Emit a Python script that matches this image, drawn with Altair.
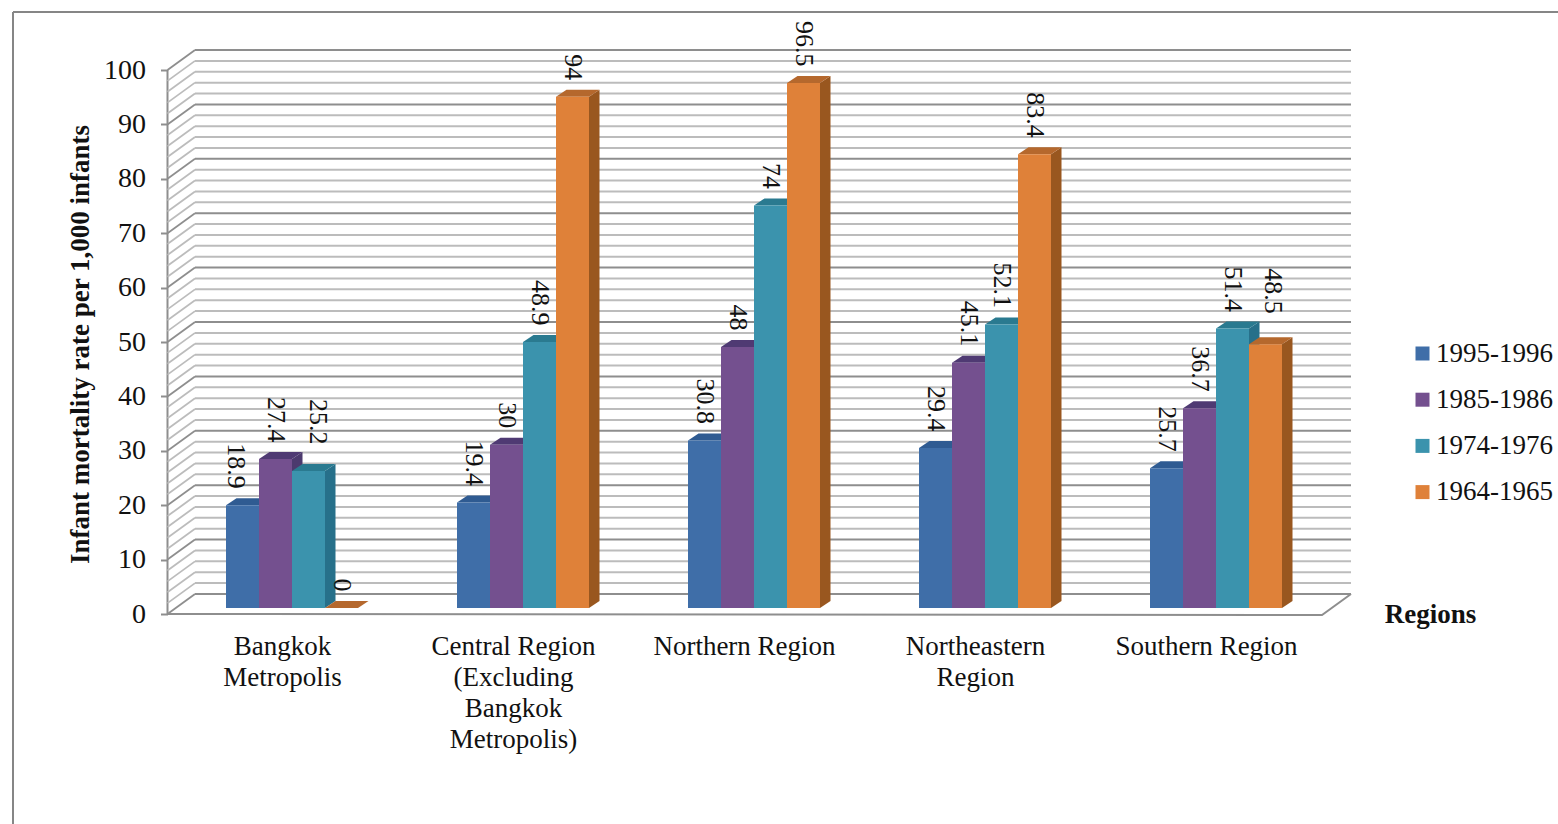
import altair as alt
import pandas as pd

FONT = "Liberation Serif"

# Chart values
regions = [
    "Bangkok\nMetropolis",
    "Central Region\n(Excluding\nBangkok\nMetropolis)",
    "Northern Region",
    "Northeastern\nRegion",
    "Southern Region",
]
periods = ["1995-1996", "1985-1986", "1974-1976", "1964-1965"]
rate_1995 = [18.9, 19.4, 30.8, 29.4, 25.7]
rate_1985 = [27.4, 30, 48, 45.1, 36.7]
rate_1974 = [25.2, 48.9, 74, 52.1, 51.4]
rate_1964 = [0, 94, 96.5, 83.4, 48.5]
series = [rate_1995, rate_1985, rate_1974, rate_1964]

front_colors = ["#3f6ea8", "#74508f", "#3b93ad", "#df8139"]
top_colors = ["#2f5b92", "#4f3a73", "#2a7a90", "#b5682d"]
side_colors = ["#2c5080", "#4c3a6e", "#27708a", "#99571f"]

# Scales: x counts region groups, y is the rate on the plane of the bar fronts
W, H = 1558, 824
GROUP = 231.0
PX = 5.44
x_scale = alt.Scale(domain=[-226 / GROUP, (W - 226) / GROUP], range=[0, W], nice=False, zero=False)
bar_y = alt.Scale(domain=[-(H - 608) / PX, 608 / PX], range=[H, 0], nice=False, zero=False)
axis_y = alt.Scale(domain=[-(H - 614) / PX, 614 / PX], range=[H, 0], nice=False, zero=False)

BAR = 33 / GROUP
DEPTH_X = 10.5 / GROUP
DEPTH_Y = 7 / PX
WALL_Y = 14 / PX          # back wall sits above the bar plane
FRONT_Y = -6 / PX         # axis plane sits below the bar plane
AXIS_X = (167.5 - 226) / GROUP
WALL_L = (195 - 226) / GROUP
WALL_R = (1351 - 226) / GROUP
FLOOR_R = (1322 - 226) / GROUP

# Value labels are hand-placed in a few crowded spots: (group, series) -> (dx px, dy px)
label_nudge = {(0, 0): (-7, 0), (0, 2): (9, 10), (4, 3): (7, 14)}

front, top, side, labels = [], [], [], []
for j, (name, vals) in enumerate(zip(periods, series)):
    for i, v in enumerate(vals):
        x0 = i + j * BAR
        x1 = x0 + BAR
        key = f"{i}-{j}"
        front.append(dict(x=x0, x2=x1, y=v, y2=0, period=name))
        top.append(dict(key=key, y=v, x=x0, x2=x1, shade=top_colors[j]))
        top.append(dict(key=key, y=v + DEPTH_Y, x=x0 + DEPTH_X, x2=x1 + DEPTH_X, shade=top_colors[j]))
        side.append(dict(key=key, x=x1, y=v, y2=0, shade=side_colors[j]))
        side.append(dict(key=key, x=x1 + DEPTH_X, y=v + DEPTH_Y, y2=DEPTH_Y, shade=side_colors[j]))
        dx, dy = label_nudge.get((i, j), (0, 0))
        labels.append(dict(x=x0 + BAR / 2 + dx / GROUP, y=v + (16.5 + dy) / PX, text=f"{v:g}"))

ticks_minor = list(range(0, 101, 2))
wall = pd.DataFrame([
    dict(y=t + WALL_Y, x=WALL_L, x2=WALL_R, major=t % 10 == 0) for t in ticks_minor
])
diag = pd.DataFrame(
    [dict(t=t, x=AXIS_X, y=t + FRONT_Y, major=t % 10 == 0) for t in ticks_minor]
    + [dict(t=t, x=WALL_L, y=t + WALL_Y, major=t % 10 == 0) for t in ticks_minor]
)
floor = pd.DataFrame({
    "x": [AXIS_X, FLOOR_R, WALL_R],
    "y": [FRONT_Y, FRONT_Y - 0.2, WALL_Y],
})

X = lambda f="x": alt.X(f"{f}:Q", scale=x_scale, axis=None)
Y = lambda f="y": alt.Y(f"{f}:Q", scale=bar_y, axis=None)
major_color = alt.Color(
    "major:N", scale=alt.Scale(domain=[True, False], range=["#8e8e8e", "#bcbcbc"]), legend=None
)

wall_layer = alt.Chart(wall).mark_rule(strokeWidth=2).encode(x=X(), x2="x2:Q", y=Y(), color=major_color)
diag_layer = alt.Chart(diag).mark_line(strokeWidth=1.8).encode(x=X(), y=Y(), detail="t:N", color=major_color)
floor_layer = alt.Chart(floor).mark_line(strokeWidth=2, color="#8e8e8e").encode(x=X(), y=Y())

side_layer = alt.Chart(pd.DataFrame(side)).mark_area().encode(
    x=X(), y=alt.Y("y:Q", scale=bar_y, axis=None, stack=None), y2="y2:Q", detail="key:N",
    color=alt.Color("shade:N", scale=None),
)
top_layer = alt.Chart(pd.DataFrame(top)).mark_area(orient="horizontal").encode(
    y=Y(), x=alt.X("x:Q", scale=x_scale, axis=None, stack=None), x2="x2:Q", detail="key:N",
    color=alt.Color("shade:N", scale=None),
)
front_layer = alt.Chart(pd.DataFrame(front)).mark_rect().encode(
    x=X(), x2="x2:Q", y=Y(), y2="y2:Q",
    color=alt.Color(
        "period:N",
        sort=periods,
        scale=alt.Scale(domain=periods, range=front_colors),
        legend=alt.Legend(
            title=None, orient="none", legendX=1409, legendY=340,
            symbolType="square", symbolSize=196, symbolStrokeWidth=0, symbolOpacity=1,
            labelFont=FONT, labelFontSize=27, labelColor="#111111", labelOffset=0,
            rowPadding=18.2,
        ),
    ),
)
label_layer = alt.Chart(pd.DataFrame(labels)).mark_text(
    angle=90, align="right", baseline="middle", font=FONT, fontSize=26, color="#111111"
).encode(x=X(), y=Y(), text="text:N")

# Real axes, carried by the vertical axis line
centers = [i + (282 - 226) / GROUP for i in range(len(regions))]
names_js = "[" + ",".join("'" + r.replace("\n", "|") + "'" for r in regions) + "]"
axis_df = pd.DataFrame({"x": [AXIS_X], "y": [0], "y2": [100]})
axis_layer = alt.Chart(axis_df).mark_rule(strokeWidth=2, color="#8e8e8e").encode(
    x=alt.X(
        "x:Q", scale=x_scale,
        axis=alt.Axis(
            orient="bottom", offset=-(H - 614), values=centers, domain=False, ticks=False, grid=False,
            labelExpr=f"split({names_js}[round(datum.value - {(282 - 226) / GROUP})], '|')",
            labelFont=FONT, labelFontSize=27, labelColor="#111111", labelPadding=19,
            labelLineHeight=31, labelBaseline="top", labelOverlap=False, labelFlush=False,
            labelLimit=0,
            title="Regions", titleFont=FONT, titleFontSize=27, titleFontWeight="bold",
            titleColor="#111111", titleX=1430, titleY=0, titleBaseline="middle", titleAlign="center",
        ),
    ),
    y=alt.Y(
        "y:Q", scale=axis_y,
        axis=alt.Axis(
            orient="left", offset=-167.5, values=list(range(0, 101, 10)), domain=False, grid=False,
            tickColor="#8e8e8e", tickSize=7, tickWidth=2, labelPadding=15,
            labelFont=FONT, labelFontSize=28, labelColor="#111111", labelBaseline="middle",
            title="Infant mortality rate  per 1,000 infants", titleFont=FONT, titleFontSize=27,
            titleFontWeight="bold", titleColor="#111111", titleX=-87, titleY=344,
            titleAnchor="middle", titleBaseline="middle",
        ),
    ),
    y2="y2:Q",
)

# Outer frame of the figure: top and left edges
frame_top = alt.Chart(pd.DataFrame({"a": [0]})).mark_rule(strokeWidth=2, color="#868686").encode(
    x=alt.value(13), x2=alt.value(W), y=alt.value(12)
)
frame_left = alt.Chart(pd.DataFrame({"a": [0]})).mark_rule(strokeWidth=2, color="#868686").encode(
    x=alt.value(13), y=alt.value(12), y2=alt.value(H)
)

chart = (
    alt.layer(
        axis_layer, frame_top, frame_left, wall_layer, diag_layer, floor_layer,
        side_layer, top_layer, front_layer, label_layer,
    )
    .resolve_scale(y="independent", color="independent")
    .resolve_axis(x="independent")
    .properties(width=W, height=H, padding=0, autosize=alt.AutoSizeParams(type="none"), background="white")
    .configure_view(stroke=None)
)
chart.save("out.html", embed_options={"renderer": "svg", "actions": False})
